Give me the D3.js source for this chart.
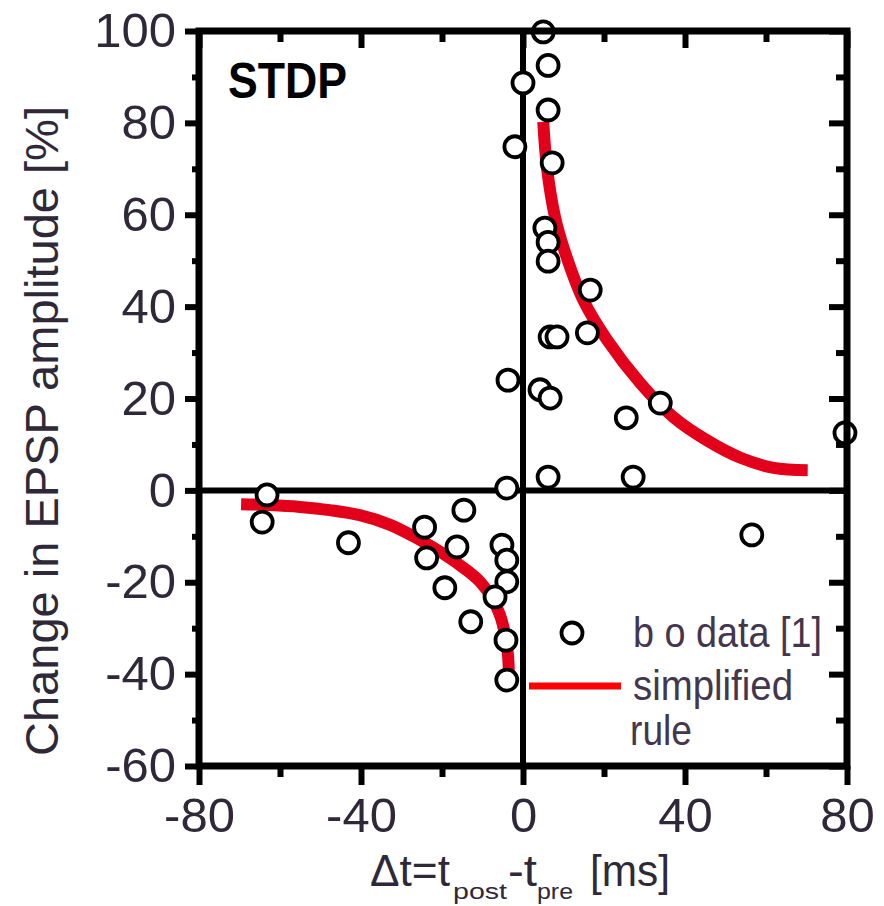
<!DOCTYPE html>
<html>
<head>
<meta charset="utf-8">
<script src="https://cdn.jsdelivr.net/npm/d3@7"></script>
<style>
  body { margin: 0; background: #fff; }
  svg { display: block; }
</style>
</head>
<body>
<div id="chart"></div>
<script>
// datos (dt en ms, cambio en %)
const dataDt = [5.0, 6.2, 0.0, 6.2, -2.0, 7.2, 5.4, 6.2, 6.2, 16.6, 15.9, 6.7, 8.4, -3.7, 4.2, 6.7,
                25.5, 33.9, 79.5, 27.2, 6.2, -4.0, 56.5,
                -63.2, -64.4, -43.1, -24.3, -14.6, -23.8, -16.3, -19.3, -12.9, -5.2, -4.0, -4.0, -6.9, -4.2, -4.0];
const dataDw = [99.8, 92.5, 88.7, 82.8, 74.8, 71.3, 57.1, 54.0, 49.9, 43.6, 34.3, 33.4, 33.4, 24.0, 21.9, 20.1,
                15.8, 19.0, 12.5, 2.9, 2.9, 0.5, -9.7,
                -1.0, -6.9, -11.4, -8.0, -4.3, -14.7, -12.3, -21.2, -28.6, -11.9, -15.2, -19.9, -23.2, -32.6, -41.3];

// curva "simplified rule", rama positiva y negativa
const rulePosDt = [5.0, 5.9, 7.9, 10.2, 14.9, 20.8, 29.0, 37.2, 45.6, 53.7, 61.9, 70.3];
const rulePosDw = [80.2, 70.4, 59.5, 52.3, 41.4, 32.7, 23.3, 15.9, 10.8, 7.1, 4.9, 4.4];
const ruleNegDt = [-69.6, -62.5, -55.1, -47.7, -40.3, -32.8, -25.4, -19.3, -14.3, -10.6, -7.7, -5.7, -4.4, -3.7, -3.5];
const ruleNegDw = [-3.0, -3.2, -3.6, -4.3, -5.4, -7.5, -10.8, -14.0, -17.1, -19.9, -23.4, -27.1, -31.5, -35.9, -39.6];

// ticks
const xMajor = [-80, -40, 0, 40, 80];
const xMinor = [-60, -20, 20, 60];
const yMajor = [-60, -40, -20, 0, 20, 40, 60, 80, 100];
const yMinor = [-50, -30, -10, 10, 30, 50, 70, 90];

const WIDTH = 884;
const HEIGHT = 906;
const LEFT = 199, RIGHT = 847, TOP = 31, BOTTOM = 766;
const RED = "#e3001b";
const TEXT_COL = "#2f2838";
const FONT = "'Liberation Sans', Arial, sans-serif";

const svg = d3.select("#chart").append("svg")
    .attr("width", WIDTH)
    .attr("height", HEIGHT);

svg.append("rect").attr("width", WIDTH).attr("height", HEIGHT).attr("fill", "white");

const x = d3.scaleLinear().domain([-80, 80]).range([LEFT, RIGHT]);
const y = d3.scaleLinear().domain([-60, 100]).range([BOTTOM, TOP]);

// lineas de cero
svg.append("line")
    .attr("x1", LEFT).attr("x2", RIGHT)
    .attr("y1", y(0)).attr("y2", y(0))
    .attr("stroke", "black").attr("stroke-width", 6);
svg.append("line")
    .attr("x1", x(0)).attr("x2", x(0))
    .attr("y1", TOP).attr("y2", BOTTOM)
    .attr("stroke", "black").attr("stroke-width", 6);

// curvas de la regla
const line = d3.line()
    .x(d => x(d[0]))
    .y(d => y(d[1]))
    .curve(d3.curveCatmullRom.alpha(0.5));

[[rulePosDt, rulePosDw], [ruleNegDt, ruleNegDw]].forEach(([ts, ws]) => {
    svg.append("path")
        .datum(ts.map((t, i) => [t, ws[i]]))
        .attr("d", line)
        .attr("fill", "none")
        .attr("stroke", RED)
        .attr("stroke-width", 12);
});

// puntos de datos
const points = dataDt.map((t, i) => ({ t: t, w: dataDw[i] }));
svg.append("g")
    .selectAll("circle")
    .data(points)
    .enter().append("circle")
    .attr("cx", d => x(d.t))
    .attr("cy", d => y(d.w))
    .attr("r", 10.5)
    .attr("fill", "white")
    .attr("stroke", "black")
    .attr("stroke-width", 3.8);

// marco
svg.append("rect")
    .attr("x", LEFT).attr("y", TOP)
    .attr("width", RIGHT - LEFT).attr("height", BOTTOM - TOP)
    .attr("fill", "none")
    .attr("stroke", "black")
    .attr("stroke-width", 7);

// ejes
function styleAxis(g, fontSize) {
    g.select(".domain").remove();
    g.selectAll("line").attr("stroke", "black").attr("stroke-width", 6);
    g.selectAll("text")
        .attr("fill", TEXT_COL)
        .style("font-family", FONT)
        .style("font-size", fontSize + "px");
}

const plainFormat = d => String(d);

svg.append("g").attr("transform", `translate(${LEFT},0)`)
    .call(d3.axisLeft(y).tickValues(yMajor).tickSize(14).tickPadding(9).tickFormat(plainFormat))
    .call(g => styleAxis(g, 49));
svg.append("g").attr("transform", `translate(${LEFT},0)`)
    .call(d3.axisLeft(y).tickValues(yMinor).tickSize(7).tickFormat(""))
    .call(g => styleAxis(g, 10));

svg.append("g").attr("transform", `translate(0,${BOTTOM})`)
    .call(d3.axisBottom(x).tickValues(xMajor).tickSize(19).tickPadding(12).tickFormat(plainFormat))
    .call(g => styleAxis(g, 49));
svg.append("g").attr("transform", `translate(0,${BOTTOM})`)
    .call(d3.axisBottom(x).tickValues(xMinor).tickSize(11).tickFormat(""))
    .call(g => styleAxis(g, 10));

// ticks hacia adentro arriba y a la derecha
svg.append("g").attr("transform", `translate(0,${TOP})`)
    .call(d3.axisBottom(x).tickValues(xMajor).tickSize(17).tickFormat(""))
    .call(g => styleAxis(g, 10));
svg.append("g").attr("transform", `translate(0,${TOP})`)
    .call(d3.axisBottom(x).tickValues(xMinor).tickSize(11).tickFormat(""))
    .call(g => styleAxis(g, 10));
svg.append("g").attr("transform", `translate(${RIGHT},0)`)
    .call(d3.axisLeft(y).tickValues(yMajor).tickSize(18).tickFormat(""))
    .call(g => styleAxis(g, 10));
svg.append("g").attr("transform", `translate(${RIGHT},0)`)
    .call(d3.axisLeft(y).tickValues(yMinor).tickSize(11).tickFormat(""))
    .call(g => styleAxis(g, 10));

// titulo STDP
svg.append("text")
    .attr("x", 228).attr("y", 98)
    .attr("textLength", 119)
    .attr("lengthAdjust", "spacingAndGlyphs")
    .style("font-family", FONT)
    .style("font-size", "50px")
    .style("font-weight", "bold")
    .attr("fill", "black")
    .text("STDP");

// etiqueta eje y
svg.append("text")
    .attr("transform", "translate(58,431) rotate(-90)")
    .attr("text-anchor", "middle")
    .attr("textLength", 650)
    .attr("lengthAdjust", "spacingAndGlyphs")
    .style("font-family", FONT)
    .style("font-size", "46px")
    .attr("fill", TEXT_COL)
    .text("Change in EPSP amplitude [%]");

// etiqueta eje x con subindices
const xl = svg.append("g")
    .style("font-family", FONT)
    .attr("fill", TEXT_COL);
xl.append("text").attr("x", 370).attr("y", 886)
    .attr("textLength", 80).attr("lengthAdjust", "spacingAndGlyphs")
    .style("font-size", "44px").text("\u0394t=t");
xl.append("text").attr("x", 453).attr("y", 899)
    .attr("textLength", 54).attr("lengthAdjust", "spacingAndGlyphs")
    .style("font-size", "22px").text("post");
xl.append("text").attr("x", 508).attr("y", 886)
    .attr("textLength", 29).attr("lengthAdjust", "spacingAndGlyphs")
    .style("font-size", "44px").text("-t");
xl.append("text").attr("x", 537).attr("y", 899)
    .attr("textLength", 36).attr("lengthAdjust", "spacingAndGlyphs")
    .style("font-size", "22px").text("pre");
xl.append("text").attr("x", 590).attr("y", 886)
    .attr("textLength", 80).attr("lengthAdjust", "spacingAndGlyphs")
    .style("font-size", "44px").text("[ms]");

// leyenda
const legend = svg.append("g")
    .style("font-family", FONT)
    .attr("fill", "#43364d");
legend.append("circle")
    .attr("cx", 572).attr("cy", 633).attr("r", 10.5)
    .attr("fill", "white").attr("stroke", "black").attr("stroke-width", 3.8);
legend.append("text").attr("x", 633).attr("y", 647)
    .attr("textLength", 189).attr("lengthAdjust", "spacingAndGlyphs")
    .style("font-size", "42px").text("b o data [1]");
legend.append("line")
    .attr("x1", 529).attr("x2", 621).attr("y1", 686).attr("y2", 686)
    .attr("stroke", "#ff0000").attr("stroke-width", 7);
legend.append("text").attr("x", 633).attr("y", 700)
    .attr("textLength", 160).attr("lengthAdjust", "spacingAndGlyphs")
    .style("font-size", "42px").text("simplified");
legend.append("text").attr("x", 630).attr("y", 745)
    .attr("textLength", 62).attr("lengthAdjust", "spacingAndGlyphs")
    .style("font-size", "42px").text("rule");
</script>
</body>
</html>
